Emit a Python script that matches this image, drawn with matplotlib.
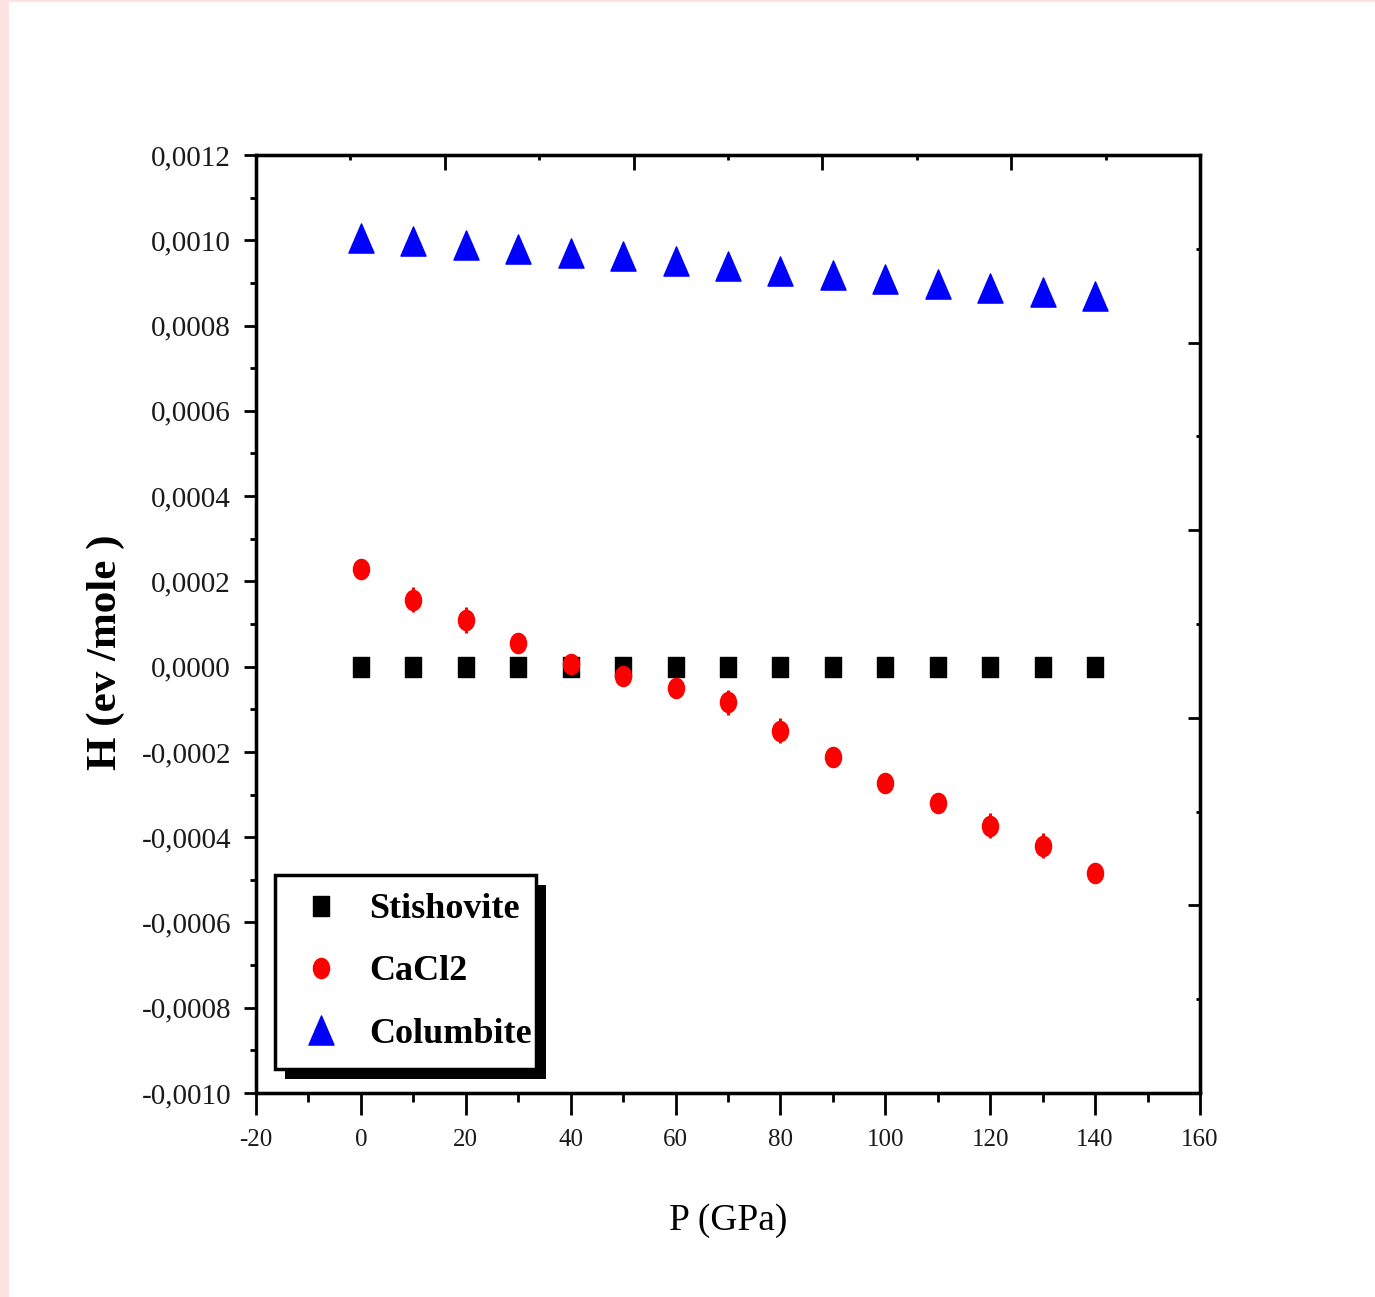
import matplotlib
matplotlib.use("Agg")
import matplotlib.pyplot as plt
import numpy as np
from matplotlib.path import Path
from matplotlib.patches import Rectangle
from matplotlib.ticker import MultipleLocator, FuncFormatter
from matplotlib.transforms import Affine2D

# Pressure points (GPa)
pressure = [0, 10, 20, 30, 40, 50, 60, 70, 80, 90, 100, 110, 120, 130, 140]

# Enthalpy differences relative to stishovite (eV/mole)
stishovite = [0.0] * 15
cacl2 = [0.000230, 0.000157, 0.000110, 0.000056, 0.000006, -0.000021, -0.000049,
         -0.000084, -0.000150, -0.000213, -0.000272, -0.000319, -0.000373,
         -0.000420, -0.000483]
cacl2_err = [0.00002, 0.00003, 0.00003, 0.00002, 0.00002, 0.00002, 0.00002,
             0.00003, 0.00003, 0.00002, 0.00002, 0.00002, 0.00003, 0.00003,
             0.00002]
columbite = [0.001006, 0.000999, 0.000990, 0.000980, 0.000971, 0.000962, 0.000952,
             0.000940, 0.000929, 0.000919, 0.000910, 0.000898, 0.000889,
             0.000879, 0.000870]

series_names = ["Stishovite", "CaCl2", "Columbite"]

SERIF = "Liberation Serif"
FIG_W, FIG_H = 1375, 1297
AX_RECT = [0.1862, 0.1573, 0.6865, 0.7232]

# Slightly tall marker shapes
rect_marker = Path([(-0.4, -0.5), (0.4, -0.5), (0.4, 0.5), (-0.4, 0.5), (-0.4, -0.5)],
                   [Path.MOVETO, Path.LINETO, Path.LINETO, Path.LINETO, Path.CLOSEPOLY])
ell_marker = Path.unit_circle().transformed(Affine2D().scale(0.4, 0.5))
tri_marker = Path([(0.0, 0.5), (-0.43, -0.5), (0.43, -0.5), (0.0, 0.5)],
                  [Path.MOVETO, Path.LINETO, Path.LINETO, Path.CLOSEPOLY])

fig = plt.figure(figsize=(FIG_W / 100, FIG_H / 100), dpi=100)
fig.patch.set_facecolor("white")
# pale border strips
fig.add_artist(Rectangle((0, 0), 9 / FIG_W, 1, transform=fig.transFigure,
                         facecolor="#fde2e2", edgecolor="none"))
fig.add_artist(Rectangle((0, 1 - 2 / FIG_H), 1, 2 / FIG_H, transform=fig.transFigure,
                         facecolor="#fde2e2", edgecolor="none"))

ax = fig.add_axes(AX_RECT)

ax.plot(pressure, stishovite, linestyle="none", marker=rect_marker, markersize=14.5,
        color="black", label=series_names[0], zorder=3)
ax.errorbar(pressure, cacl2, yerr=cacl2_err, fmt="none", ecolor="red",
            elinewidth=2.2, capsize=0, zorder=3)
ax.plot(pressure, cacl2, linestyle="none", marker=ell_marker, markersize=14.5,
        color="red", label=series_names[1], zorder=3)
ax.plot(pressure, columbite, linestyle="none", marker=tri_marker, markersize=21,
        color="blue", label=series_names[2], zorder=3)

ax.set_xlim(-20, 160)
ax.set_ylim(-0.0010, 0.0012)
ax.xaxis.set_major_locator(MultipleLocator(20))
ax.xaxis.set_minor_locator(MultipleLocator(10))
ax.yaxis.set_major_locator(MultipleLocator(0.0002))
ax.yaxis.set_minor_locator(MultipleLocator(0.0001))
ax.yaxis.set_major_formatter(FuncFormatter(lambda v, p: f"{round(v, 4) + 0:.4f}".replace(".", ",")))
ax.xaxis.set_major_formatter(FuncFormatter(lambda v, p: f"{int(round(v))}"))

for sp in ax.spines.values():
    sp.set_linewidth(2.3)

ax.tick_params(axis="x", which="major", direction="out", length=16, width=2, pad=10,
               labelsize=18)
ax.tick_params(axis="x", which="minor", direction="out", length=6.5, width=2)
ax.tick_params(axis="y", which="major", direction="out", length=9, width=2, pad=9,
               labelsize=21)
ax.tick_params(axis="y", which="minor", direction="out", length=4.5, width=2)
for lab in ax.get_xticklabels() + ax.get_yticklabels():
    lab.set_fontfamily(SERIF)
    lab.set_color("#1a1a1a")

ax.set_xlabel("P (GPa)", fontfamily=SERIF, fontsize=27, labelpad=38)
ax.set_ylabel("H (ev /mole )", fontfamily=SERIF, fontsize=31, fontweight="bold")
ax.yaxis.set_label_coords(-0.139, 0.47)

# top and right frame ticks
ax_top = ax.twiny()
ax_top.set_xlim(0, 1)
ax_top.xaxis.set_major_locator(MultipleLocator(0.2))
ax_top.xaxis.set_minor_locator(MultipleLocator(0.1))
ax_top.tick_params(axis="x", which="major", direction="in", length=11, width=2,
                   labeltop=False)
ax_top.tick_params(axis="x", which="minor", direction="in", length=3.5, width=2)

ax_right = ax.twinx()
ax_right.set_ylim(0, 1)
ax_right.yaxis.set_major_locator(MultipleLocator(0.2))
ax_right.yaxis.set_minor_locator(MultipleLocator(0.1))
ax_right.tick_params(axis="y", which="major", direction="in", length=8.5, width=2,
                     labelright=False)
ax_right.tick_params(axis="y", which="minor", direction="in", length=3, width=2)
for a in (ax_top, ax_right):
    for sp in a.spines.values():
        sp.set_linewidth(2.3)

leg = ax.legend(loc="upper left", bbox_to_anchor=(0.0201, 0.2324), borderaxespad=0,
                prop={"family": SERIF, "size": 26, "weight": "bold"},
                frameon=False, handlelength=1.55, handletextpad=0.55,
                labelspacing=0.8, borderpad=0.5)
leg.set_zorder(7)

# boxed frame with solid offset shadow, hugging the legend text on the right
fig.canvas.draw()
bb = leg.get_window_extent().transformed(ax.transAxes.inverted())
px_x = 1 / (AX_RECT[2] * FIG_W)
px_y = 1 / (AX_RECT[3] * FIG_H)
box_w = bb.width - 14 * px_x
ax.add_artist(Rectangle((bb.x0 + 10 * px_x, bb.y0 - 10 * px_y), box_w, bb.height,
                        transform=ax.transAxes, facecolor="black", edgecolor="none",
                        clip_on=False, zorder=5))
ax.add_artist(Rectangle((bb.x0, bb.y0), box_w, bb.height,
                        transform=ax.transAxes, facecolor="white", edgecolor="black",
                        linewidth=2.5, clip_on=False, zorder=6))

fig.savefig("out.png", dpi=100)
